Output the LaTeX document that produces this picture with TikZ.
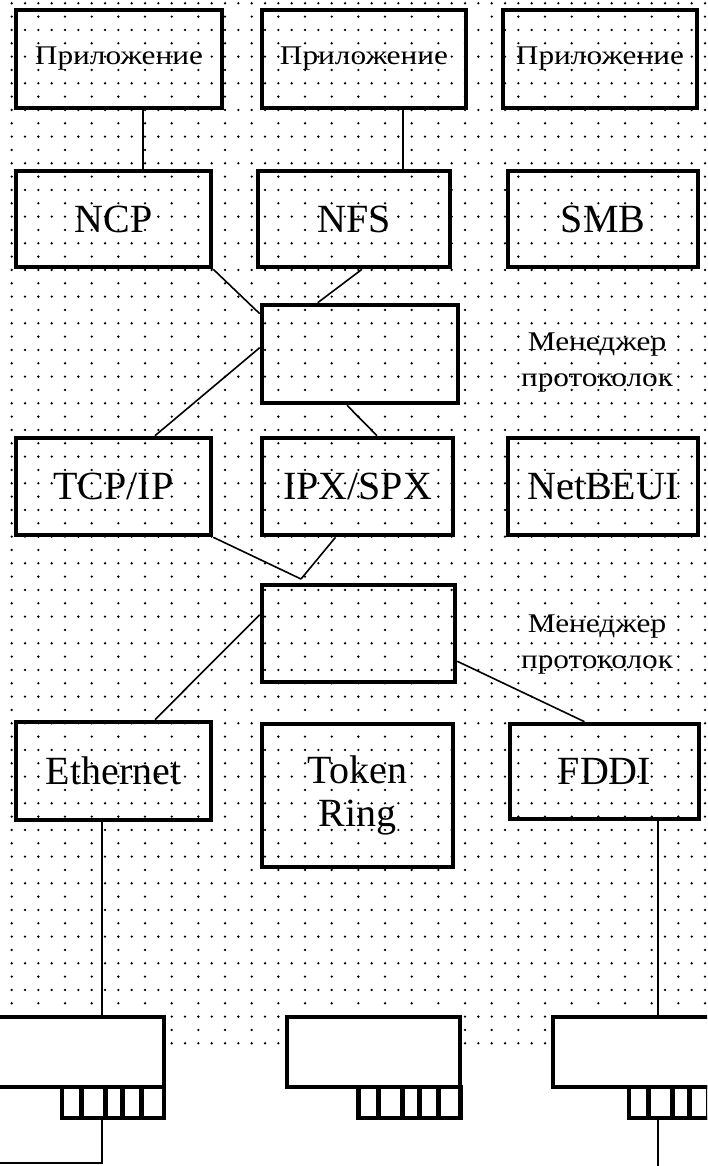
\documentclass[tikz,border=0pt]{standalone}
\usepackage{fontspec}
\usepackage{graphicx}
\setmainfont{Liberation Serif}
\usetikzlibrary{calc}
\newcommand{\wide}[1]{\scalebox{1.16}[1]{#1}}
\begin{document}
\begin{tikzpicture}[x=1pt,y=-1pt,
  box/.style={draw, line width=4.6pt, inner sep=0pt, align=center},
  big/.style={font=\fontsize{40}{43}\selectfont},
  small/.style={font=\fontsize{27}{36}\selectfont},
  wire/.style={line width=1.6pt},
  card/.style={draw, fill=white, line width=4.6pt, inner sep=0pt,
    minimum width=173pt, minimum height=70pt},
  plug/.style={draw, fill=white, line width=4.6pt, inner sep=0pt,
    minimum width=102pt, minimum height=31pt},
  pin/.style={line width=4.6pt}]
\useasboundingbox (0,0) rectangle (707,1166);
\clip (0,0) rectangle (707,1166);
\fill[white] (0,0) rectangle (707,1166);

% dotted background
\fill[black]
  \foreach \j in {0,2,...,78} {\foreach \i in {0,...,52}
    {({11.7+13.333*\i},{3.3+13.333*\j}) circle (1.3)}};
\fill[black]
  \foreach \j in {1,3,...,77} {\foreach \i in {0,2,...,52}
    {({11.7+13.333*\i},{3.3+13.333*\j}) circle (1.3)}};

% application layer
\node[box, small, minimum width=206pt, minimum height=98pt] (a1) at (119,59) {\wide{Приложение}};
\node[box, small, minimum width=204pt, minimum height=98pt] (a2) at (364,59) {\wide{Приложение}};
\node[box, small, minimum width=194pt, minimum height=98pt] (a3) at (600,59) {\wide{Приложение}};

% redirectors
\node[box, big, minimum width=195pt, minimum height=96pt] (ncp) at (113.5,219) {NCP};
\node[box, big, minimum width=192pt, minimum height=96pt] (nfs) at (354,219) {NFS};
\node[box, big, minimum width=190pt, minimum height=96pt] (smb) at (603,219) {SMB};

% first protocol manager
\node[box, minimum width=196pt, minimum height=98pt] (m1) at (360,354) {};
\node[small, align=center] (m1t) at (597,363) {\wide{Менеджер}\\\wide{протоколок}};

% transport protocols
\node[box, big, minimum width=195pt, minimum height=97pt] (tcp) at (113.5,486.5) {TCP/IP};
\node[box, big, minimum width=191pt, minimum height=97pt] (ipx) at (357.5,486.5) {IPX/SPX};
\node[box, big, minimum width=190pt, minimum height=97pt] (nb) at (603,486.5) {NetBEUI};

% second protocol manager
\node[box, minimum width=193pt, minimum height=97pt] (m2) at (358.5,633.5) {};
\node[small, align=center] (m2t) at (597,645) {\wide{Менеджер}\\\wide{протоколок}};

% network drivers
\node[box, big, minimum width=195pt, minimum height=98pt] (eth) at (113.5,771) {Ethernet};
\node[box, big, minimum width=191pt, minimum height=143pt] (tok) at (357.5,795.5) {Token\\Ring};
\node[box, big, minimum width=189pt, minimum height=95pt] (fddi) at (604.5,771.5) {FDDI};

% connectors
\draw[wire] ($(a1.south)+(24,0)$) coordinate (p1) -- (p1 |- ncp.north);
\draw[wire] ($(a2.south)+(39,0)$) coordinate (p2) -- (p2 |- nfs.north);
\draw[wire] (ncp.south east) -- ($(m1.north west)+(0,11)$);
\draw[wire] ($(nfs.south)+(8,0)$) -- ($(m1.north west)+(58,0)$);
\draw[wire] ($(m1.north west)+(0,45)$) -- ($(tcp.north)+(41.5,0)$);
\draw[wire] ($(m1.south)+(-13,0)$) -- ($(ipx.north)+(19.5,0)$);
\coordinate (j) at (301,579);
\draw[wire] (tcp.south east) -- (j);
\draw[wire] ($(ipx.south)+(-22,0)$) -- (j);
\draw[wire] ($(m2.north west)+(0,32)$) -- ($(eth.north)+(41.5,0)$);
\draw[wire] ($(m2.south east)+(0,-23)$) -- ($(fddi.north)+(-20,0)$);

% network adapters
\node[card] (c1) at (77.5,1052) {};
\node[card] (c2) at (373.5,1052) {};
\node[card] (c3) at (639.5,1052) {};
\node[plug] (t1) at (113,1102.5) {};
\node[plug] (t2) at (409.5,1102.5) {};
\node[plug] (t3) at (680,1102.5) {};
\foreach \t in {t1,t2,t3}{
  \foreach \d in {22,46,63,82}{
    \draw[pin] ($(\t.north west)+(\d,0)$) -- ($(\t.south west)+(\d,0)$);
  }
}

% cables
\draw[wire] ($(eth.south)+(-11.5,0)$) coordinate (e0) -- (e0 |- c1.north);
\draw[wire] ($(fddi.south)+(53.5,0)$) coordinate (f0) -- (f0 |- c3.north);
\coordinate (e1) at (0,1163);
\draw[wire] (e0 |- t1.south) -- (e0 |- e1) -- (e1);
\coordinate (f1) at (658,1170);
\draw[wire] (f0 |- t3.south) -- (f1);
\end{tikzpicture}
\end{document}
